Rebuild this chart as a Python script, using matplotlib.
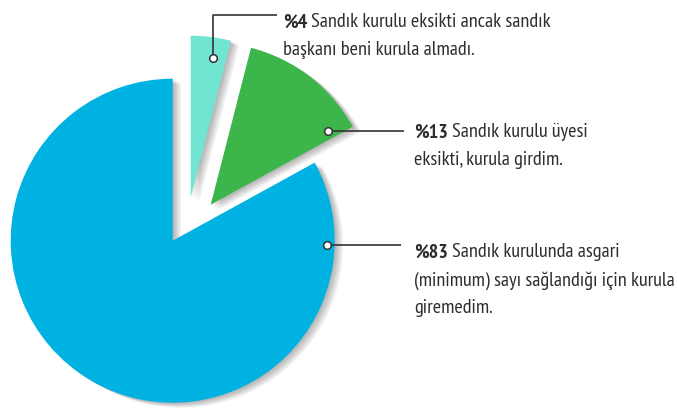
import matplotlib.pyplot as plt
import matplotlib.patheffects as pe

# data
shares = [83, 13, 4]
pct_labels = ["%83", "%13", "%4"]
label_lines = [
    ["Sandık kurulunda asgari", "(minimum) sayı sağlandığı için kurula", "giremedim."],
    ["Sandık kurulu üyesi", "eksikti, kurula girdim."],
    ["Sandık kurulu eksikti ancak sandık", "başkanı beni kurula almadı."],
]
colors = ["#00b2e2", "#3cb54a", "#72e4d2"]

fam = ["PT Sans Narrow", "Roboto Condensed", "DejaVu Sans"]

W, H = 677, 408
fig = plt.figure(figsize=(W / 100, H / 100), dpi=100)
ax = fig.add_axes([0, 0, 1, 1])

# pie in pixel coordinates (y up)
cx, cy, r = 172.7, H - 240.7, 162
wedges, _ = ax.pie(shares, colors=colors, startangle=90, counterclock=True,
                   center=(cx, cy), radius=r, wedgeprops=dict(linewidth=0))
offsets = [(0, 0), (38, 36), (18, 43)]  # exploded slices
shadow = [pe.SimplePatchShadow(offset=(k, -k * 0.6), shadow_rgbFace="black", alpha=0.05)
          for k in (1, 2, 3, 4, 5, 6)]
for w, (dx, dy) in zip(wedges, offsets):
    w.set_center((cx + dx, cy + dy))
    w.set_path_effects(shadow + [pe.Normal()])

ax.set_xlim(0, W)
ax.set_ylim(0, H)
ax.axis("off")

# leader lines (pixel coords from top) and text anchors
leaders = [
    [(327, 245), (401, 245)],
    [(328, 131), (404, 131)],
    [(213, 58), (213, 14.5), (277, 14.5)],
]
text_pos = [(414, 257.3), (414, 137.3), (283, 27.3)]
line_gap = 28
fs = 14.6
tcol = "#2e2e2e"

renderer = fig.canvas.get_renderer()
for pts, (tx, ty), pct, lines in zip(leaders, text_pos, pct_labels, label_lines):
    xs = [p[0] for p in pts]
    ys = [H - p[1] for p in pts]
    ax.plot(xs, ys, color="#333333", lw=1.2, solid_capstyle="butt", zorder=5)
    ax.plot(xs[0], ys[0], "o", ms=5.5, mfc="white", mec="#333333", mew=1.1, zorder=6)
    b = ax.text(tx, H - ty, pct, fontsize=fs, fontweight="bold", family=fam,
                color=tcol, va="baseline", ha="left")
    bw = b.get_window_extent(renderer).width
    ax.text(tx + bw + 4, H - ty, lines[0], fontsize=fs, family=fam,
            color=tcol, va="baseline", ha="left")
    for i, ln in enumerate(lines[1:], start=1):
        ax.text(tx, H - ty - i * line_gap, ln, fontsize=fs, family=fam,
                color=tcol, va="baseline", ha="left")

fig.savefig("out.png", dpi=100)
